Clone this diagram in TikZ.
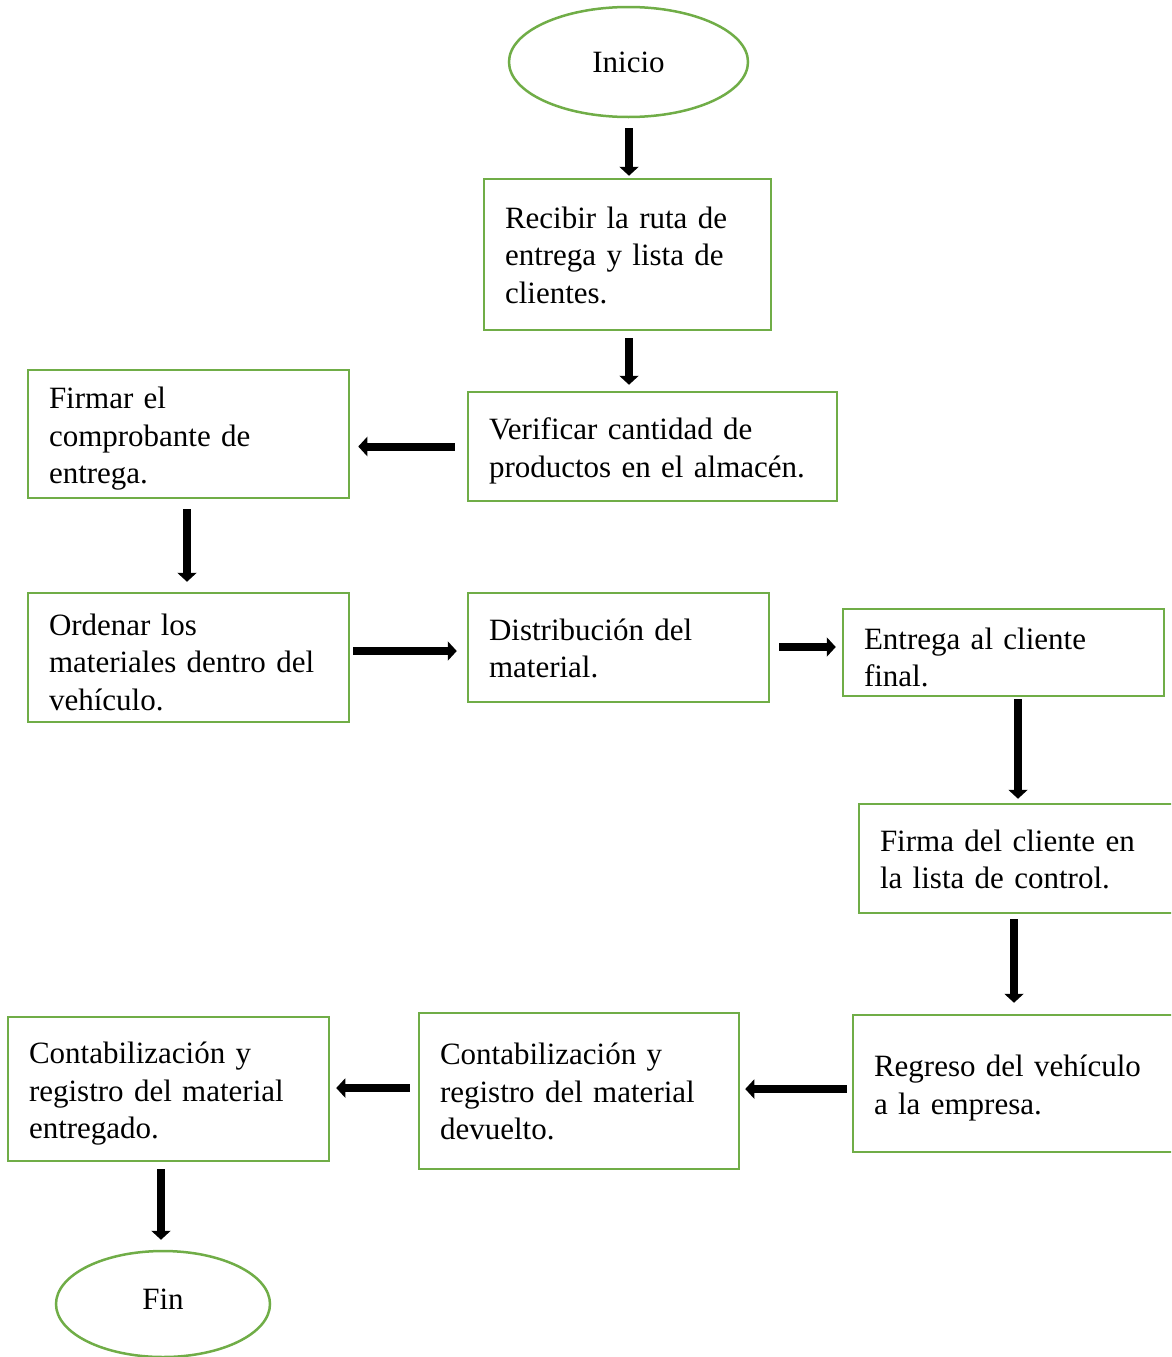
\documentclass[tikz,border=0pt]{standalone}
\usepackage{fontspec}
\setmainfont{Liberation Serif}
\usetikzlibrary{arrows.meta,shapes.geometric}
\definecolor{boxgreen}{RGB}{112,173,71}
\newcommand{\tstrut}{\rule{0pt}{31pt}}
\newcommand{\sstrut}{\rule{0pt}{23pt}}
\tikzset{
  box/.style={draw=boxgreen, line width=2.5pt, fill=white, align=left, inner xsep=21pt, inner ysep=4pt,
    font=\fontsize{31}{37.5}\selectfont, rectangle},
  oval/.style={draw=boxgreen, line width=2.5pt, fill=white, ellipse, inner sep=2pt,
    font=\fontsize{31}{37.5}\selectfont},
  arr/.style={line width=8pt, -{Triangle[length=9pt,width=19pt]}}
}
\begin{document}
\begin{tikzpicture}[x=1pt,y=-1pt]
\useasboundingbox (0,0) rectangle (1171,1357);
\clip (0,0) rectangle (1171,1357);

\node[oval, minimum width=239pt, minimum height=110pt] (inicio) at (628.5,62) {\raisebox{-1pt}{Inicio}};
\node[box, text width=245pt, minimum height=151pt] (b1) at (627.5,254.5) {\sstrut Recibir la ruta de\\entrega y lista de\\clientes.};
\node[box, text width=327pt, minimum height=109pt] (b2) at (652.5,446.5) {\tstrut Verificar cantidad de\\productos en el almacén.};
\node[box, text width=279pt, minimum height=128pt] (b3) at (188.5,434) {\tstrut Firmar el\\comprobante de\\entrega.};
\node[box, text width=279pt, minimum height=129pt] (b4) at (188.5,657.5) {\tstrut Ordenar los\\materiales dentro del\\vehículo.};
\node[box, text width=259pt, minimum height=109pt] (b5) at (618.5,647.5) {\sstrut Distribución del\\material.};
\node[box, text width=279pt, minimum height=87pt] (b6) at (1003.5,652.5) {\tstrut Entrega al cliente\\final.};
\node[box, text width=279pt, minimum height=109pt] (b7) at (1019.5,858.5) {\sstrut Firma del cliente en\\la lista de control.};
\node[box, text width=285pt, minimum height=137pt] (b8) at (1016.5,1083.5) {\tstrut Regreso del vehículo\\a la empresa.};
\node[box, text width=278pt, minimum height=156pt] (b9) at (579,1091) {\sstrut Contabilización y\\registro del material\\devuelto.};
\node[box, text width=279pt, minimum height=144pt] (b10) at (168.5,1089) {\tstrut Contabilización y\\registro del material\\entregado.};
\node[oval, minimum width=214pt, minimum height=106pt] (fin) at (163,1304) {\raisebox{10pt}{Fin}};

\coordinate (x1) at (629,0);
\coordinate (x4) at (187,0);
\coordinate (y5) at (0,651);
\coordinate (y6) at (0,647);
\coordinate (x7) at (1018,0);
\coordinate (x8) at (1014,0);
\coordinate (y9) at (0,1089);
\coordinate (y10) at (0,1088);
\coordinate (x11) at (161,0);

\draw[arr, shorten <=10pt, shorten >=2pt] (inicio.south -| x1) -- (b1.north -| x1);
\draw[arr, shorten <=7pt, shorten >=6pt] (b1.south -| x1) -- (b2.north -| x1);
\draw[arr, shorten <=12pt, shorten >=8pt] (b2.west) -- (b2.west -| b3.east);
\draw[arr, shorten <=10pt, shorten >=10pt] (b3.south -| x4) -- (b4.north -| x4);
\draw[arr, shorten <=3pt, shorten >=10pt] (b4.east |- y5) -- (b5.west |- y5);
\draw[arr, shorten <=9pt, shorten >=6pt] (b5.east |- y6) -- (b6.west |- y6);
\draw[arr, shorten <=2pt, shorten >=4pt] (b6.south -| x7) -- (b7.north -| x7);
\draw[arr, shorten <=5pt, shorten >=11pt] (b7.south -| x8) -- (b8.north -| x8);
\draw[arr, shorten <=5pt, shorten >=5pt] (b8.west |- y9) -- (b9.east |- y9);
\draw[arr, shorten <=8pt, shorten >=6pt] (b9.west |- y10) -- (b10.east |- y10);
\draw[arr, shorten <=7pt, shorten >=10pt] (b10.south -| x11) -- (fin.north -| x11);
\end{tikzpicture}
\end{document}
